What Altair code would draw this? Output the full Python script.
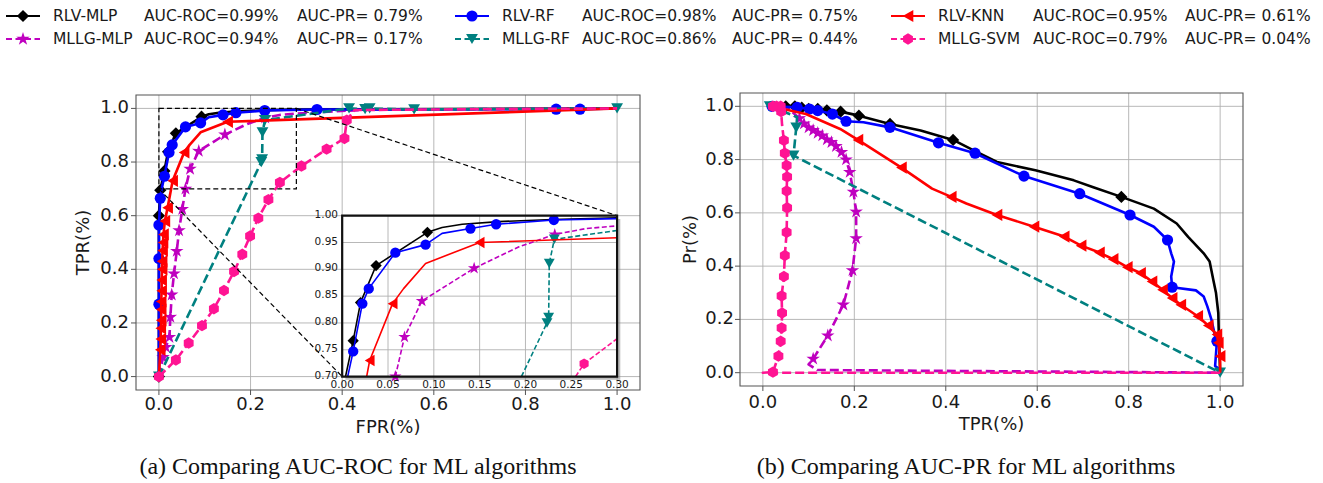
import altair as alt
import pandas as pd

# ---------------------------------------------------------------- data
names = ["RLV-MLP", "RLV-RF", "RLV-KNN", "MLLG-MLP", "MLLG-RF", "MLLG-SVM"]
auc_roc = ["0.99", "0.98", "0.95", "0.94", "0.86", "0.79"]
auc_pr = ["0.79", "0.75", "0.61", "0.17", "0.44", "0.04"]

# (a) ROC curves: FPR, TPR, marker flag
roc_mlp_fpr = [0.0, 0.0, 0.003, 0.012, 0.020, 0.037, 0.093, 0.109, 0.131, 0.171, 0.230, 0.300, 1.0]
roc_mlp_tpr = [0.0, 0.60, 0.695, 0.767, 0.838, 0.907, 0.969, 0.978, 0.984, 0.989, 0.993, 0.996, 1.0]
roc_mlp_mk = [1, 1, 1, 1, 1, 1, 1, 0, 0, 0, 0, 0, 0]

roc_rf_fpr = [0.0, 0.0, 0.0, 0.0, 0.003, 0.006, 0.012, 0.022, 0.029, 0.058, 0.091, 0.109, 0.140, 0.168, 0.231, 0.345, 0.867, 0.919, 1.0]
roc_rf_tpr = [0.0, 0.27, 0.44, 0.565, 0.665, 0.70, 0.747, 0.836, 0.864, 0.931, 0.946, 0.967, 0.976, 0.984, 0.992, 0.996, 0.997, 0.997, 1.0]
roc_rf_mk = [0, 1, 1, 1, 1, 0, 1, 1, 1, 1, 1, 0, 1, 1, 1, 1, 1, 1, 0]

roc_knn_fpr = [0.0, 0.003, 0.004, 0.004, 0.005, 0.005, 0.005, 0.006, 0.006, 0.007, 0.007, 0.008, 0.009, 0.010, 0.013, 0.019, 0.030, 0.055, 0.067, 0.091, 0.150, 1.0]
roc_knn_tpr = [0.0, 0.10, 0.14, 0.18, 0.21, 0.25, 0.28, 0.32, 0.36, 0.40, 0.43, 0.47, 0.50, 0.53, 0.58, 0.63, 0.73, 0.836, 0.864, 0.911, 0.950, 1.0]
roc_knn_mk = [0, 1, 1, 1, 1, 1, 1, 1, 1, 1, 1, 1, 1, 1, 1, 1, 1, 1, 0, 0, 1, 0]

roc_mmlp_fpr = [0.0, 0.009, 0.015, 0.023, 0.025, 0.028, 0.033, 0.039, 0.044, 0.051, 0.058, 0.068, 0.087, 0.144, 0.193, 0.232, 0.266, 0.300, 0.450, 1.0]
roc_mmlp_tpr = [0.0, 0.072, 0.11, 0.147, 0.222, 0.305, 0.384, 0.468, 0.545, 0.624, 0.700, 0.774, 0.841, 0.902, 0.942, 0.965, 0.976, 0.981, 0.995, 1.0]
roc_mmlp_mk = [0, 1, 1, 1, 1, 1, 1, 1, 1, 1, 1, 1, 1, 1, 0, 1, 0, 0, 0, 0]

roc_mrf_fpr = [0.0, 0.2235, 0.2253, 0.226, 0.2315, 0.415, 0.450, 0.460, 0.557, 1.0]
roc_mrf_tpr = [0.0, 0.800, 0.810, 0.911, 0.956, 1.0, 0.997, 1.0, 0.996, 1.0]
roc_mrf_mk = [1, 1, 1, 1, 1, 1, 1, 1, 1, 1]

roc_svm_fpr = [0.0, 0.037, 0.065, 0.094, 0.120, 0.142, 0.164, 0.182, 0.199, 0.217, 0.239, 0.264, 0.311, 0.366, 0.405, 0.410, 0.427, 1.0]
roc_svm_tpr = [0.0, 0.062, 0.125, 0.190, 0.253, 0.321, 0.392, 0.456, 0.524, 0.591, 0.660, 0.724, 0.785, 0.848, 0.888, 0.956, 0.994, 1.0]
roc_svm_mk = [1, 1, 1, 1, 1, 1, 1, 1, 1, 1, 1, 1, 1, 1, 1, 1, 0, 0]

# (b) PR curves: recall (TPR), precision, marker flag
pr_mlp_rec = [0.030, 0.050, 0.070, 0.085, 0.100, 0.120, 0.140, 0.170, 0.210, 0.278, 0.345, 0.416, 0.462, 0.512, 0.596, 0.680, 0.721, 0.784, 0.855, 0.905, 0.930, 0.964, 0.977, 0.985, 0.991, 0.996, 0.997, 1.0]
pr_mlp_prec = [1.0, 1.0, 1.0, 0.995, 0.99, 0.99, 0.985, 0.98, 0.965, 0.934, 0.909, 0.874, 0.834, 0.791, 0.760, 0.722, 0.697, 0.660, 0.616, 0.560, 0.510, 0.448, 0.417, 0.349, 0.299, 0.224, 0.149, 0.0]
pr_mlp_mk = [0, 1, 1, 1, 1, 1, 1, 1, 1, 1, 0, 1, 0, 0, 0, 0, 0, 1, 0, 0, 0, 0, 0, 0, 0, 0, 0, 0]

pr_rf_rec = [0.015, 0.020, 0.075, 0.102, 0.120, 0.152, 0.182, 0.220, 0.278, 0.384, 0.464, 0.571, 0.693, 0.803, 0.855, 0.885, 0.893, 0.899, 0.893, 0.895, 0.947, 0.964, 0.972, 0.981, 0.989, 0.993, 0.989, 1.0]
pr_rf_prec = [1.0, 1.0, 0.996, 0.990, 0.984, 0.971, 0.944, 0.940, 0.921, 0.863, 0.824, 0.738, 0.672, 0.592, 0.548, 0.498, 0.448, 0.417, 0.361, 0.321, 0.309, 0.286, 0.249, 0.199, 0.137, 0.118, 0.025, 0.012]
pr_rf_mk = [0, 1, 1, 1, 1, 1, 1, 0, 1, 1, 1, 1, 1, 1, 0, 1, 0, 0, 0, 1, 0, 0, 0, 0, 0, 1, 0, 0]

pr_knn_rec = [0.018, 0.094, 0.169, 0.208, 0.303, 0.370, 0.412, 0.445, 0.512, 0.593, 0.659, 0.696, 0.736, 0.766, 0.797, 0.826, 0.851, 0.874, 0.895, 0.914, 0.951, 0.974, 0.993, 0.996, 1.0, 1.0]
pr_knn_prec = [1.0, 0.971, 0.915, 0.874, 0.770, 0.691, 0.660, 0.635, 0.592, 0.548, 0.511, 0.477, 0.451, 0.426, 0.396, 0.374, 0.342, 0.311, 0.280, 0.255, 0.212, 0.177, 0.143, 0.112, 0.062, 0.0]
pr_knn_mk = [0, 0, 0, 1, 1, 0, 1, 0, 1, 1, 1, 1, 1, 1, 1, 1, 1, 1, 1, 1, 1, 1, 1, 1, 1, 0]

pr_mmlp_rec = [0.040, 0.060, 0.080, 0.090, 0.100, 0.110, 0.120, 0.130, 0.140, 0.150, 0.160, 0.172, 0.182, 0.190, 0.198, 0.204, 0.204, 0.196, 0.176, 0.142, 0.110, 0.100, 0.119, 1.0]
pr_mmlp_prec = [1.0, 0.985, 0.955, 0.935, 0.920, 0.910, 0.900, 0.890, 0.875, 0.865, 0.850, 0.828, 0.800, 0.753, 0.679, 0.604, 0.504, 0.384, 0.255, 0.139, 0.052, 0.031, 0.010, 0.0]
pr_mmlp_mk = [0, 0, 1, 1, 1, 1, 1, 1, 1, 1, 1, 1, 1, 1, 1, 1, 1, 1, 1, 1, 1, 0, 0, 0]

pr_mrf_rec = [0.015, 0.075, 0.073, 0.067, 1.0]
pr_mrf_prec = [1.0, 0.960, 0.920, 0.815, 0.0]
pr_mrf_mk = [1, 0, 1, 1, 1]

pr_svm_rec = [1.0, 0.0, 0.022, 0.034, 0.039, 0.041, 0.042, 0.041, 0.046, 0.048, 0.052, 0.053, 0.052, 0.053, 0.052, 0.048, 0.046, 0.042, 0.040, 0.039, 0.030, 0.022]
pr_svm_prec = [0.0, 0.0, 0.002, 0.062, 0.118, 0.168, 0.224, 0.288, 0.361, 0.440, 0.527, 0.619, 0.682, 0.735, 0.778, 0.824, 0.872, 0.930, 0.980, 1.0, 1.0, 1.0]
pr_svm_mk = [0, 0, 1, 1, 1, 1, 1, 1, 1, 1, 1, 1, 1, 1, 1, 1, 1, 0, 1, 1, 1, 1]

ticks = [0.0, 0.2, 0.4, 0.6, 0.8, 1.0]
inset_xticks = [0.00, 0.05, 0.10, 0.15, 0.20, 0.25, 0.30]
inset_yticks = [0.70, 0.75, 0.80, 0.85, 0.90, 0.95, 1.00]
captions = ["(a) Comparing AUC-ROC for ML algorithms", "(b) Comparing AUC-PR for ML algorithms"]

roc_sets = [(roc_mlp_fpr, roc_mlp_tpr, roc_mlp_mk), (roc_rf_fpr, roc_rf_tpr, roc_rf_mk),
            (roc_knn_fpr, roc_knn_tpr, roc_knn_mk), (roc_mmlp_fpr, roc_mmlp_tpr, roc_mmlp_mk),
            (roc_mrf_fpr, roc_mrf_tpr, roc_mrf_mk), (roc_svm_fpr, roc_svm_tpr, roc_svm_mk)]
pr_sets = [(pr_mlp_rec, pr_mlp_prec, pr_mlp_mk), (pr_rf_rec, pr_rf_prec, pr_rf_mk),
           (pr_knn_rec, pr_knn_prec, pr_knn_mk), (pr_mmlp_rec, pr_mmlp_prec, pr_mmlp_mk),
           (pr_mrf_rec, pr_mrf_prec, pr_mrf_mk), (pr_svm_rec, pr_svm_prec, pr_svm_mk)]

# ---------------------------------------------------------------- styles
STAR = "M0,-1L0.223,-0.307L0.951,-0.309L0.361,0.117L0.588,0.809L0,0.38L-0.588,0.809L-0.361,0.117L-0.951,-0.309L-0.223,-0.307Z"
HEX = "M0,-1L0.866,-0.5L0.866,0.5L0,1L-0.866,0.5L-0.866,-0.5Z"
colors = ["#000000", "#0000ff", "#ff0000", "#bf00bf", "#008080", "#ff1493"]
shapes = ["diamond", "circle", "triangle-left", STAR, "triangle-down", HEX]
msize = [150, 125, 150, 200, 140, 130]
dashed = [False, False, False, True, True, True]
draw_order = [0, 3, 1, 4, 2, 5]

W, H = 1323, 483
DOM = [-0.05, 1.05]
A_L, A_R, A_T, A_B = 136, 640, 95, 390
B_L, B_R, B_T, B_B = 740, 1243, 93, 386
FONT = "DejaVu Sans"
TICK_FS = 18
GRID = "#b0b0b0"
SPINE = "#555555"


def sc(lo, hi):
    return alt.Scale(domain=DOM, range=[lo, hi], nice=False, zero=False)


AX, AY = sc(A_L, A_R), sc(A_B, A_T)
BX, BY = sc(B_L, B_R), sc(B_B, B_T)

# inset: data window -> placement in main data coordinates
IN_X0, IN_X1, IN_Y0, IN_Y1 = 0.0, 0.3, 0.7, 1.0
PL_X0, PL_X1, PL_Y0, PL_Y1 = 0.4, 1.0, 0.0, 0.6
SX = (PL_X1 - PL_X0) / (IN_X1 - IN_X0)
SY = (PL_Y1 - PL_Y0) / (IN_Y1 - IN_Y0)
CALC_X = f"{PL_X0} + (datum.x - {IN_X0}) * {SX}"
CALC_Y = f"{PL_Y0} + (datum.y - {IN_Y0}) * {SY}"


def mk_df(xs, ys, mk):
    return pd.DataFrame({"x": xs, "y": ys, "m": mk, "i": list(range(len(xs)))})


def clip_seg(x0, y0, x1, y1):
    dx, dy = x1 - x0, y1 - y0
    u0, u1 = 0.0, 1.0
    for p, q in ((-dx, x0 - IN_X0), (dx, IN_X1 - x0), (-dy, y0 - IN_Y0), (dy, IN_Y1 - y0)):
        if p == 0:
            if q < 0:
                return None
        else:
            t = q / p
            if p < 0:
                u0 = max(u0, t)
            else:
                u1 = min(u1, t)
    if u0 > u1:
        return None
    return (x0 + u0 * dx, y0 + u0 * dy), (x0 + u1 * dx, y0 + u1 * dy)


def clip_df(xs, ys):
    segs, cur = [], []
    for k in range(len(xs) - 1):
        r = clip_seg(xs[k], ys[k], xs[k + 1], ys[k + 1])
        if r is None:
            if cur:
                segs.append(cur)
                cur = []
            continue
        a, b = r
        if cur and abs(cur[-1][0] - a[0]) < 1e-9 and abs(cur[-1][1] - a[1]) < 1e-9:
            cur.append(b)
        else:
            if cur:
                segs.append(cur)
            cur = [a, b]
    if cur:
        segs.append(cur)
    rows = []
    n = 0
    for s_id, s in enumerate(segs):
        for (px, py) in s:
            rows.append({"x": px, "y": py, "seg": s_id, "i": n})
            n += 1
    return pd.DataFrame(rows if rows else [{"x": 0.0, "y": 0.0, "seg": 0, "i": 0}])


def curve(df, xs, ys, k, lw, dash, calc=False, detail=False):
    base = alt.Chart(df)
    if calc:
        base = base.transform_calculate(px=CALC_X, py=CALC_Y)
        xf, yf = "px", "py"
    else:
        xf, yf = "x", "y"
    lkw = dict(color=colors[k], strokeWidth=lw, strokeJoin="round")
    if dashed[k]:
        lkw["strokeDash"] = dash
    enc = dict(x=alt.X(f"{xf}:Q", scale=xs, axis=None), y=alt.Y(f"{yf}:Q", scale=ys, axis=None))
    lenc = dict(enc, order=alt.Order("i:Q"))
    if detail:
        lenc["detail"] = alt.Detail("seg:N")
    return base.mark_line(**lkw).encode(**lenc)


def points(df, xs, ys, k, size, calc=False):
    base = alt.Chart(df).transform_filter("datum.m == 1")
    if calc:
        base = base.transform_filter(
            f"datum.x >= {IN_X0 - 1e-9} && datum.x <= {IN_X1 + 1e-9} && datum.y >= {IN_Y0 - 1e-9} && datum.y <= {IN_Y1 + 1e-9}"
        ).transform_calculate(px=CALC_X, py=CALC_Y)
        xf, yf = "px", "py"
    else:
        xf, yf = "x", "y"
    return base.mark_point(shape=shapes[k], filled=True, size=size, color=colors[k], opacity=1, strokeWidth=0).encode(
        x=alt.X(f"{xf}:Q", scale=xs, axis=None), y=alt.Y(f"{yf}:Q", scale=ys, axis=None))


def axes(xs, ys, left, bottom, xlab_y, ylab_x):
    labs = [f"{v:.1f}" for v in ticks]
    g = pd.DataFrame({"v": ticks, "lo": DOM[0], "hi": DOM[1], "lab": labs})
    vgrid = alt.Chart(g).mark_rule(color=GRID, strokeWidth=0.9).encode(
        x=alt.X("v:Q", scale=xs, axis=None), y=alt.Y("lo:Q", scale=ys, axis=None), y2="hi:Q")
    hgrid = alt.Chart(g).mark_rule(color=GRID, strokeWidth=0.9).encode(
        y=alt.Y("v:Q", scale=ys, axis=None), x=alt.X("lo:Q", scale=xs, axis=None), x2="hi:Q")
    xt = alt.Chart(g).mark_rule(color=SPINE, strokeWidth=1).encode(
        x=alt.X("v:Q", scale=xs, axis=None), y=alt.value(bottom), y2=alt.value(bottom + 5))
    yt = alt.Chart(g).mark_rule(color=SPINE, strokeWidth=1).encode(
        y=alt.Y("v:Q", scale=ys, axis=None), x=alt.value(left - 5), x2=alt.value(left))
    xl = alt.Chart(g).mark_text(font=FONT, fontSize=TICK_FS, color="#1a1a1a", baseline="middle").encode(
        x=alt.X("v:Q", scale=xs, axis=None), y=alt.value(xlab_y), text="lab:N")
    yl = alt.Chart(g).mark_text(font=FONT, fontSize=TICK_FS, color="#1a1a1a", align="right", baseline="middle").encode(
        y=alt.Y("v:Q", scale=ys, axis=None), x=alt.value(ylab_x), text="lab:N")
    frame = alt.Chart(g.head(1)).mark_rect(fillOpacity=0, stroke=SPINE, strokeWidth=1.1).encode(
        x=alt.X("lo:Q", scale=xs, axis=None), x2="hi:Q", y=alt.Y("lo:Q", scale=ys, axis=None), y2="hi:Q")
    return [vgrid, hgrid], [frame, xt, yt, xl, yl]


def title(txt, x, y, angle=0):
    kw = dict(font=FONT, fontSize=TICK_FS, color="#1a1a1a", text=txt, align="center", baseline="middle")
    if angle:
        kw["angle"] = angle
    return alt.Chart(pd.DataFrame({"a": [0]})).mark_text(**kw).encode(x=alt.value(x), y=alt.value(y))


ONE = pd.DataFrame({"a": [0]})

# ---------------------------------------------------------------- panel (a)
grid_a, deco_a = axes(AX, AY, A_L, A_B, 405, 129)
layers_a = list(grid_a)
for k in draw_order:
    xs_, ys_, mk_ = roc_sets[k]
    df = mk_df(xs_, ys_, mk_)
    layers_a.append(curve(df, AX, AY, k, 2.6, [9, 4]))
    layers_a.append(points(df, AX, AY, k, msize[k]))

# zoom rectangle and connector lines
zr = pd.DataFrame({"x": [IN_X0], "x2": [IN_X1], "y": [IN_Y0], "y2": [IN_Y1]})
layers_a.append(alt.Chart(zr).mark_rect(fillOpacity=0, stroke="black", strokeWidth=1.2, strokeDash=[5, 3]).encode(
    x=alt.X("x:Q", scale=AX, axis=None), x2="x2:Q", y=alt.Y("y:Q", scale=AY, axis=None), y2="y2:Q"))
conn = pd.DataFrame({"x": [IN_X1, IN_X0], "y": [IN_Y1, IN_Y0], "x2": [PL_X1, PL_X0], "y2": [PL_Y1, PL_Y0]})
layers_a.append(alt.Chart(conn).mark_rule(color="black", strokeWidth=1.2, strokeDash=[5, 3]).encode(
    x=alt.X("x:Q", scale=AX, axis=None), y=alt.Y("y:Q", scale=AY, axis=None), x2="x2:Q", y2="y2:Q"))

# inset
box = pd.DataFrame({"x": [PL_X0], "x2": [PL_X1], "y": [PL_Y0], "y2": [PL_Y1]})
shadow = pd.DataFrame({"x": [PL_X0 + 0.007], "x2": [PL_X1 + 0.007], "y": [PL_Y0 - 0.012], "y2": [PL_Y1 - 0.012]})
layers_a.append(alt.Chart(shadow).mark_rect(color="#888888", opacity=0.55).encode(
    x=alt.X("x:Q", scale=AX, axis=None), x2="x2:Q", y=alt.Y("y:Q", scale=AY, axis=None), y2="y2:Q"))
layers_a.append(alt.Chart(box).mark_rect(color="white").encode(
    x=alt.X("x:Q", scale=AX, axis=None), x2="x2:Q", y=alt.Y("y:Q", scale=AY, axis=None), y2="y2:Q"))
igx = pd.DataFrame({"x": inset_xticks, "y": IN_Y0, "y2": IN_Y1, "lab": [f"{v:.2f}" for v in inset_xticks]})
igy = pd.DataFrame({"y": inset_yticks, "x": IN_X0, "x2": IN_X1, "lab": [f"{v:.2f}" for v in inset_yticks]})
layers_a.append(alt.Chart(igx).transform_calculate(px=CALC_X, py=CALC_Y, py2=f"{PL_Y0} + (datum.y2 - {IN_Y0}) * {SY}")
                .mark_rule(color=GRID, strokeWidth=0.9).encode(
    x=alt.X("px:Q", scale=AX, axis=None), y=alt.Y("py:Q", scale=AY, axis=None), y2="py2:Q"))
layers_a.append(alt.Chart(igy).transform_calculate(px=CALC_X, py=CALC_Y, px2=f"{PL_X0} + (datum.x2 - {IN_X0}) * {SX}")
                .mark_rule(color=GRID, strokeWidth=0.9).encode(
    x=alt.X("px:Q", scale=AX, axis=None), y=alt.Y("py:Q", scale=AY, axis=None), x2="px2:Q"))
for k in draw_order:
    xs_, ys_, mk_ = roc_sets[k]
    cdf = clip_df(xs_, ys_)
    layers_a.append(curve(cdf, AX, AY, k, 1.6, [5, 2.5], calc=True, detail=True))
    layers_a.append(points(mk_df(xs_, ys_, mk_), AX, AY, k, msize[k] * 0.85, calc=True))
layers_a.append(alt.Chart(box).mark_rect(fillOpacity=0, stroke="#111111", strokeWidth=2.2).encode(
    x=alt.X("x:Q", scale=AX, axis=None), x2="x2:Q", y=alt.Y("y:Q", scale=AY, axis=None), y2="y2:Q"))
layers_a.append(alt.Chart(igx).transform_calculate(px=CALC_X).mark_text(
    font=FONT, fontSize=10.5, color="#1a1a1a", baseline="middle").encode(
    x=alt.X("px:Q", scale=AX, axis=None), y=alt.value(385), text="lab:N"))
layers_a.append(alt.Chart(igy).transform_calculate(py=CALC_Y).mark_text(
    font=FONT, fontSize=10.5, color="#1a1a1a", align="right", baseline="middle", dy=-1).encode(
    y=alt.Y("py:Q", scale=AY, axis=None), x=alt.value(338), text="lab:N"))

layers_a += deco_a
layers_a.append(title("FPR(%)", (A_L + A_R) / 2, 428))
layers_a.append(title("TPR(%)", 84, (A_T + A_B) / 2, angle=270))
panel_a = alt.layer(*layers_a)

# ---------------------------------------------------------------- panel (b)
grid_b, deco_b = axes(BX, BY, B_L, B_B, 403, 734)
layers_b = list(grid_b)
for k in draw_order:
    xs_, ys_, mk_ = pr_sets[k]
    df = mk_df(xs_, ys_, mk_)
    layers_b.append(curve(df, BX, BY, k, 2.6, [9, 4]))
    layers_b.append(points(df, BX, BY, k, msize[k]))
layers_b += deco_b
layers_b.append(title("TPR(%)", (B_L + B_R) / 2, 425))
layers_b.append(title("Pr(%)", 691, (B_T + B_B) / 2, angle=270))
panel_b = alt.layer(*layers_b)

# ---------------------------------------------------------------- legend
LEG_X = [6, 455, 891]
LEG_Y = [16, 39]
NAME_OFF = 47
ROC_OFF = [138, 127, 142]
PR_OFF = [291, 277, 294]
leg_layers = []
txt_rows = []
for k in range(6):
    r, c = k // 3, k % 3
    x0, y0 = LEG_X[c], LEG_Y[r]
    rkw = dict(color=colors[k], strokeWidth=2.2)
    if dashed[k]:
        rkw["strokeDash"] = [6, 3.5]
    leg_layers.append(alt.Chart(ONE).mark_rule(**rkw).encode(
        x=alt.value(x0), x2=alt.value(x0 + 34), y=alt.value(y0)))
    leg_layers.append(alt.Chart(ONE).mark_point(shape=shapes[k], filled=True, size=msize[k], color=colors[k],
                                                opacity=1, strokeWidth=0).encode(
        x=alt.value(x0 + 17), y=alt.value(y0)))
    txt_rows.append({"px": x0 + NAME_OFF, "py": y0, "t": names[k]})
    txt_rows.append({"px": x0 + ROC_OFF[c], "py": y0, "t": f"AUC-ROC={auc_roc[k]}%"})
    txt_rows.append({"px": x0 + PR_OFF[c], "py": y0, "t": f"AUC-PR= {auc_pr[k]}%"})
leg_layers.append(alt.Chart(pd.DataFrame(txt_rows)).mark_text(
    font=FONT, fontSize=15.5, color="#1a1a1a", align="left", baseline="middle").encode(
    x=alt.X("px:Q", scale=None), y=alt.Y("py:Q", scale=None), text="t:N"))

cap = pd.DataFrame({"px": [358, 966], "py": [467, 467], "t": captions})
cap_layer = alt.Chart(cap).mark_text(font="Liberation Serif", fontSize=24, color="#111111",
                                     align="center", baseline="middle").encode(
    x=alt.X("px:Q", scale=None), y=alt.Y("py:Q", scale=None), text="t:N")

chart = alt.layer(panel_a, panel_b, *leg_layers, cap_layer).resolve_scale(
    x="independent", y="independent"
).properties(
    width=W, height=H, padding=0, autosize=alt.AutoSizeParams(type="none"), background="white"
).configure_view(strokeWidth=0)

chart.save("out.html", embed_options={"renderer": "svg", "actions": False})
